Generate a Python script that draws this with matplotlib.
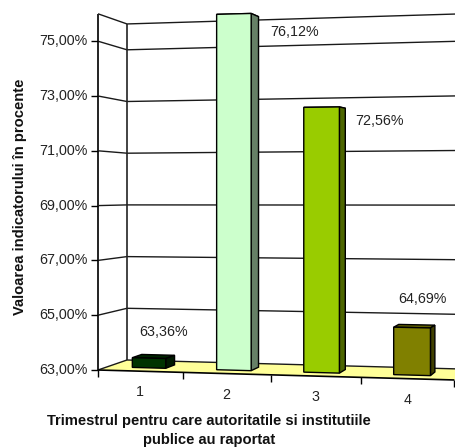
import matplotlib
matplotlib.use("Agg")
import matplotlib.pyplot as plt
from matplotlib.patches import Polygon

categories = ["1", "2", "3", "4"]
values = [63.36, 76.12, 72.56, 64.69]
value_labels = ["63,36%", "76,12%", "72,56%", "64,69%"]
bar_colors = ["#003300", "#CCFFCC", "#99CC00", "#808000"]
side_colors = ["#001A00", "#668066", "#4D6600", "#404000"]
top_colors = ["#002600", "#99BF99", "#739900", "#606000"]
y_ticks = [63, 65, 67, 69, 71, 73, 75]
y_tick_labels = ["63,00%", "65,00%", "67,00%", "69,00%", "71,00%", "73,00%", "75,00%"]
y_min, y_max = 63, 76

plt.rcParams["font.family"] = ["Liberation Sans", "DejaVu Sans"]
fig = plt.figure(figsize=(4.55, 4.48), dpi=100)
ax = fig.add_axes([0, 0, 1, 1])
ax.set_xlim(0, 455)
ax.set_ylim(448, 0)
ax.axis("off")


def proj(u, d, v):
    """Perspective scale: u = category position, d = depth 0..1, v = value."""
    x = 98 + 83.5 * u + 1.4 * u * u + d * (29 - 4.3 * u)
    front = 370 + 0.028 * (x - 98) - (27.4 + 0.004 * (x - 98)) * (v - y_min)
    back = 360 + 0.027 * (x - 127) - (25.85 + 0.0044 * (x - 127)) * (v - y_min)
    return x, (1 - d) * front + d * back


def line(pts, **kw):
    ax.plot([p[0] for p in pts], [p[1] for p in pts], color=kw.pop("color", "black"),
            lw=kw.pop("lw", 1.0), solid_capstyle="butt", clip_on=True, **kw)


n = len(categories)
# floor
ax.add_patch(Polygon([proj(0, 0, y_min), proj(0, 1, y_min), proj(n, 1, y_min), proj(n, 0, y_min)],
                     fc="#FFFF99", ec="none"))
# walls and gridlines
for t in y_ticks + [y_max]:
    line([proj(0, 0, t), proj(0, 1, t), proj(n, 1, t)], color="#1A1A1A")
line([proj(0, 0, y_min), proj(0, 0, y_max)], lw=1.4, color="#222222")
line([proj(0, 1, y_min), proj(0, 1, y_max)], lw=1.2, color="#222222")
line([proj(0, 0, y_min), proj(n, 0, y_min)], lw=1.2)

# y ticks
for t, lab in zip(y_ticks, y_tick_labels):
    x, y = proj(0, 0, t)
    line([(x - 7, y), (x, y)], lw=1.0)
    ax.text(x - 10.5, y, lab, ha="right", va="center", fontsize=10.3, color="#222222")

# x ticks and labels
for i in range(n + 1):
    x, y = proj(i, 0, y_min)
    line([(x, y), (x, y + 7)], lw=1.0)
for i, c in enumerate(categories):
    x, y = proj(i + 0.5, 0, y_min)
    ax.text(x, y + 21, c, ha="center", va="center", fontsize=10.3, color="#222222")

# bars
D0, D1, HALF = 0.33, 0.67, 0.2
for i, v in enumerate(values):
    top = min(v, y_max)
    u0, u1 = i + 0.5 - HALF, i + 0.5 + HALF
    f_bl, f_br = proj(u0, D0, y_min), proj(u1, D0, y_min)
    f_tl, f_tr = proj(u0, D0, top), proj(u1, D0, top)
    b_br, b_tr, b_tl = proj(u1, D1, y_min), proj(u1, D1, top), proj(u0, D1, top)
    ax.add_patch(Polygon([f_tl, b_tl, b_tr, f_tr], fc=top_colors[i], ec="black", lw=1.0, zorder=3))
    ax.add_patch(Polygon([f_br, b_br, b_tr, f_tr], fc=side_colors[i], ec="black", lw=1.0, zorder=3))
    ax.add_patch(Polygon([f_bl, f_br, f_tr, f_tl], fc=bar_colors[i], ec="black", lw=1.0, zorder=4))

# value labels
label_offsets = [(15, -26), (61, 18), (58, 14), (10, -29)]
for i, lab in enumerate(value_labels):
    x, y = proj(i + 0.5, D0, min(values[i], y_max))
    ax.text(x + label_offsets[i][0], y + label_offsets[i][1], lab, ha="center", va="center",
            fontsize=10.3, color="#222222", zorder=5)

ax.text(209, 421, "Trimestrul pentru care autoritatile si institutiile", ha="center", va="center",
        fontsize=10.6, fontweight="bold", color="#111111")
ax.text(209, 440, "publice au raportat", ha="center", va="center",
        fontsize=10.6, fontweight="bold", color="#111111")
ax.text(20, 197, "Valoarea indicatorului în procente", ha="center", va="center", rotation=90,
        fontsize=10.6, fontweight="bold", color="#111111")

fig.savefig("out.png", dpi=100, facecolor="white")
